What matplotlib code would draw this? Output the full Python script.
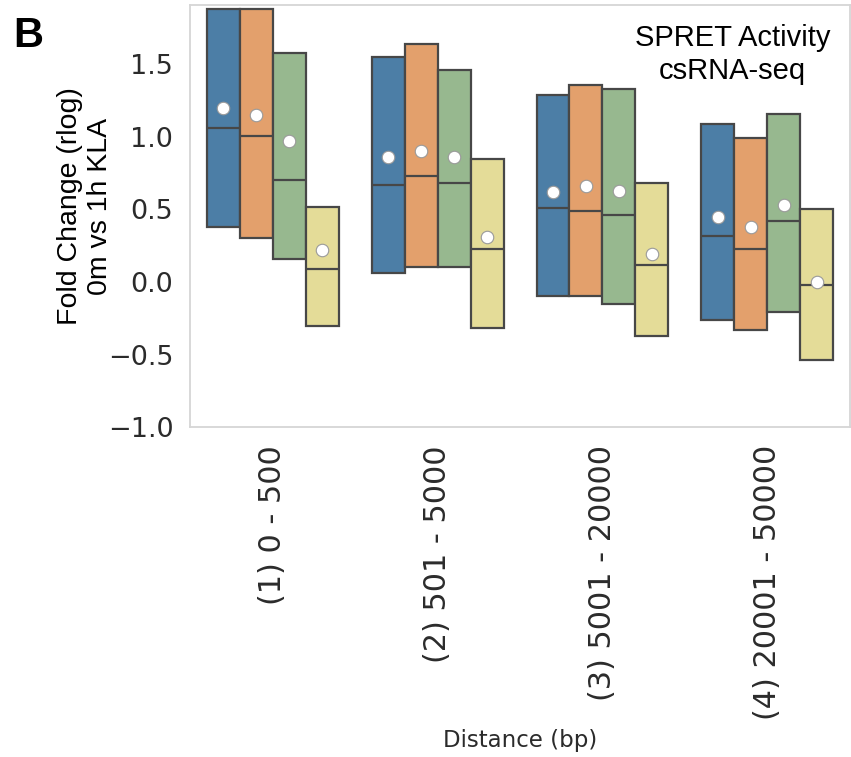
import matplotlib
matplotlib.use("Agg")
import matplotlib.pyplot as plt

# Distance bins and the four series (q1, median, q3, mean per bin)
categories = ["(1) 0 - 500", "(2) 501 - 5000", "(3) 5001 - 20000", "(4) 20001 - 50000"]
series_colors = ["#4c7ea6", "#e3a06c", "#97b88f", "#e4dc98"]

q1 = [
    [0.38, 0.06, -0.10, -0.26],
    [0.30, 0.10, -0.10, -0.33],
    [0.16, 0.10, -0.15, -0.21],
    [-0.30, -0.32, -0.37, -0.54],
]
median = [
    [1.06, 0.67, 0.51, 0.32],
    [1.01, 0.73, 0.49, 0.23],
    [0.70, 0.68, 0.46, 0.42],
    [0.09, 0.23, 0.12, -0.02],
]
q3 = [
    [1.88, 1.55, 1.29, 1.09],
    [1.88, 1.64, 1.36, 0.99],
    [1.58, 1.46, 1.33, 1.16],
    [0.52, 0.85, 0.68, 0.50],
]
mean = [
    [1.20, 0.86, 0.62, 0.45],
    [1.15, 0.90, 0.66, 0.38],
    [0.97, 0.86, 0.63, 0.53],
    [0.22, 0.31, 0.19, 0.00],
]
yticks = [-1.0, -0.5, 0.0, 0.5, 1.0, 1.5]

fig = plt.figure(figsize=(8.51, 7.57), dpi=100)
ax = fig.add_axes([0.2233, 0.4359, 0.7755, 0.5575])

n_series = len(series_colors)
group_width = 0.8
box_w = group_width / n_series
edge = "#474747"

for s in range(n_series):
    stats = []
    positions = []
    for c in range(len(categories)):
        stats.append(dict(q1=q1[s][c], med=median[s][c], q3=q3[s][c], mean=mean[s][c],
                          whislo=q1[s][c], whishi=q3[s][c], fliers=[]))
        positions.append(c - group_width / 2 + box_w * (s + 0.5))
    ax.bxp(stats, positions=positions, widths=box_w, patch_artist=True,
           showmeans=True, showcaps=False, showfliers=False,
           boxprops=dict(facecolor=series_colors[s], edgecolor=edge, linewidth=1.6),
           medianprops=dict(color=edge, linewidth=1.6),
           whiskerprops=dict(color=edge, linewidth=0),
           meanprops=dict(marker="o", markerfacecolor="white", markeredgecolor="#9a9a9a",
                          markeredgewidth=0.8, markersize=9),
           manage_ticks=False)

ax.set_xlim(-0.5, len(categories) - 0.5)
ax.set_ylim(-1.0, 1.91)
ax.set_xticks(range(len(categories)))
ax.set_xticklabels(categories, rotation=90, fontsize=21.8, color="#2b2b2b")
ax.set_yticks(yticks)
ax.set_yticklabels([f"{v:.1f}".replace("-", "\u2212") for v in yticks], fontsize=19.5, color="#2b2b2b")
ax.tick_params(axis="both", length=0)
ax.tick_params(axis="y", pad=12)
ax.tick_params(axis="x", pad=13)

for sp in ax.spines.values():
    sp.set_color("#d6d6d6")
    sp.set_linewidth(1.3)

ax.set_xlabel("Distance (bp)", fontsize=16.5, color="#2b2b2b", va="top")
ax.xaxis.set_label_coords(0.5, -0.716)

fig.text(85 / 851, 1 - 206 / 757, "Fold Change (rlog)\n0m vs 1h KLA", rotation=90,
         ha="center", va="center", fontsize=20.5, family="Liberation Sans",
         color="black", linespacing=1.2, multialignment="center")

ax.text(0.822, 0.883, "SPRET Activity\ncsRNA-seq", transform=ax.transAxes, ha="center", va="center",
        fontsize=21, family="Liberation Sans", linespacing=1.2)
fig.text(0.015, 0.952, "B", fontsize=30, fontweight="bold", family="Liberation Sans",
         ha="left", va="center")

fig.savefig("out.png", dpi=100)
